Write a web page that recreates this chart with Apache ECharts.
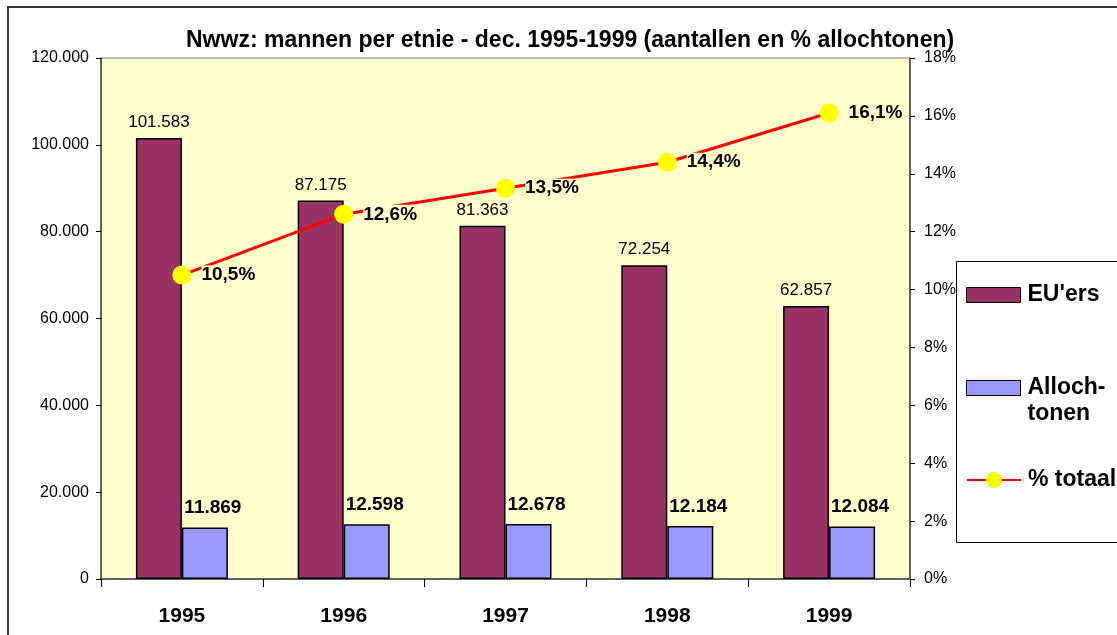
<!DOCTYPE html>
<html>
<head>
<meta charset="utf-8">
<script src="https://cdn.jsdelivr.net/npm/echarts@6/dist/echarts.min.js"></script>
<style>
  html, body { margin: 0; padding: 0; background: #ffffff; }
  #chart { width: 1117px; height: 635px; }
</style>
</head>
<body>
<div id="chart"></div>
<script>
const FONT = '"Liberation Sans", Arial, sans-serif';

const years = ['1995', '1996', '1997', '1998', '1999'];
const euValues = [101583, 87175, 81363, 72254, 62857];
const allochValues = [11869, 12598, 12678, 12184, 12084];
const pctValues = [10.5, 12.6, 13.5, 14.4, 16.1];

const EU_COLOR = '#993366';
const ALLOCH_COLOR = '#9999ff';
const PLOT_BG = '#ffffcc';

function formatThousands(value) {
  return String(Math.round(value)).replace(/\B(?=(\d{3})+(?!\d))/g, '.');
}

function formatPct(value) {
  return value.toFixed(1).replace('.', ',') + '%';
}

const legendText = {
  fontFamily: FONT,
  fontSize: 23,
  fontWeight: 'bold',
  color: '#000',
  lineHeight: 26,
  padding: [0, 0, 0, 2],
};

const chart = echarts.init(document.getElementById('chart'), null, { renderer: 'canvas' });

chart.setOption({
  animation: false,
  backgroundColor: '#ffffff',
  textStyle: { fontFamily: FONT },
  title: {
    text: 'Nwwz: mannen per etnie - dec. 1995-1999 (aantallen en % allochtonen)',
    left: 186,
    top: 29,
    padding: 0,
    textStyle: { fontFamily: FONT, fontSize: 23, fontWeight: 'bold', color: '#000' },
  },
  graphic: [
    {
      type: 'rect',
      z: 0,
      shape: { x: 8, y: 7, width: 1200, height: 700 },
      style: { fill: 'none', stroke: '#333333', lineWidth: 2 },
    },
    {
      type: 'rect',
      z: 0,
      shape: { x: 956.5, y: 261.5, width: 200, height: 281 },
      style: { fill: '#ffffff', stroke: '#000000', lineWidth: 1 },
    },
  ],
  legend: [
    {
      data: ["EU'ers"],
      left: 966,
      top: 282,
      padding: 0,
      icon: 'rect',
      itemWidth: 54,
      itemHeight: 15,
      itemStyle: { borderColor: '#000', borderWidth: 1 },
      textStyle: legendText,
    },
    {
      data: ['Allochtonen'],
      left: 966,
      top: 349,
      padding: 0,
      icon: 'rect',
      itemWidth: 54,
      itemHeight: 15,
      itemStyle: { borderColor: '#000', borderWidth: 1 },
      formatter: () => '\nAlloch-\ntonen',
      textStyle: legendText,
    },
    {
      data: ['% totaal'],
      left: 966,
      top: 467,
      padding: 0,
      itemWidth: 54,
      itemHeight: 20,
      textStyle: legendText,
    },
  ],
  grid: {
    left: 101,
    right: 207,
    top: 58,
    bottom: 56,
    show: true,
    backgroundColor: PLOT_BG,
    borderColor: '#808080',
    borderWidth: 1,
    containLabel: false,
  },
  xAxis: {
    type: 'category',
    data: years,
    axisLine: { show: true, lineStyle: { color: '#404040', width: 1.5 } },
    axisTick: { show: true, length: 8, lineStyle: { color: '#000' } },
    axisLabel: {
      margin: 27,
      color: '#000',
      fontFamily: FONT,
      fontSize: 21,
      fontWeight: 'bold',
    },
  },
  yAxis: [
    {
      type: 'value',
      min: 0,
      max: 120000,
      interval: 20000,
      axisLine: { show: true, lineStyle: { color: '#404040', width: 1.5 } },
      axisTick: { show: true, length: 5, lineStyle: { color: '#000' } },
      axisLabel: {
        margin: 12,
        color: '#000',
        fontFamily: FONT,
        fontSize: 16,
        formatter: (value) => formatThousands(value),
      },
      splitLine: { show: false },
    },
    {
      type: 'value',
      min: 0,
      max: 18,
      interval: 2,
      position: 'right',
      axisLine: { show: true, lineStyle: { color: '#404040', width: 1.5 } },
      axisTick: { show: true, length: 5, lineStyle: { color: '#000' } },
      axisLabel: {
        margin: 14,
        color: '#000',
        fontFamily: FONT,
        fontSize: 16,
        formatter: '{value}%',
      },
      splitLine: { show: false },
    },
  ],
  series: [
    {
      name: "EU'ers",
      type: 'bar',
      data: euValues,
      barWidth: 46,
      barGap: '0%',
      itemStyle: { color: EU_COLOR, borderColor: '#000', borderWidth: 1.5 },
      label: {
        show: true,
        position: 'top',
        distance: 7,
        color: '#000',
        fontFamily: FONT,
        fontSize: 17,
        formatter: (p) => formatThousands(p.value),
      },
    },
    {
      name: 'Allochtonen',
      type: 'bar',
      data: allochValues,
      barWidth: 46,
      barGap: '0%',
      itemStyle: { color: ALLOCH_COLOR, borderColor: '#000', borderWidth: 1.5 },
      label: {
        show: true,
        position: 'top',
        distance: 10,
        offset: [8, 0],
        color: '#000',
        fontFamily: FONT,
        fontSize: 19,
        fontWeight: 'bold',
        backgroundColor: PLOT_BG,
        formatter: (p) => formatThousands(p.value),
      },
    },
    {
      name: '% totaal',
      type: 'line',
      yAxisIndex: 1,
      data: pctValues,
      symbol: 'circle',
      symbolSize: 19,
      lineStyle: { color: '#ff0000', width: 3 },
      itemStyle: { color: '#ffff00', borderWidth: 0 },
      label: {
        show: true,
        position: 'right',
        distance: 10,
        color: '#000',
        fontFamily: FONT,
        fontSize: 19,
        fontWeight: 'bold',
        backgroundColor: PLOT_BG,
        formatter: (p) => formatPct(p.value),
      },
      z: 3,
    },
  ],
});
</script>
</body>
</html>
